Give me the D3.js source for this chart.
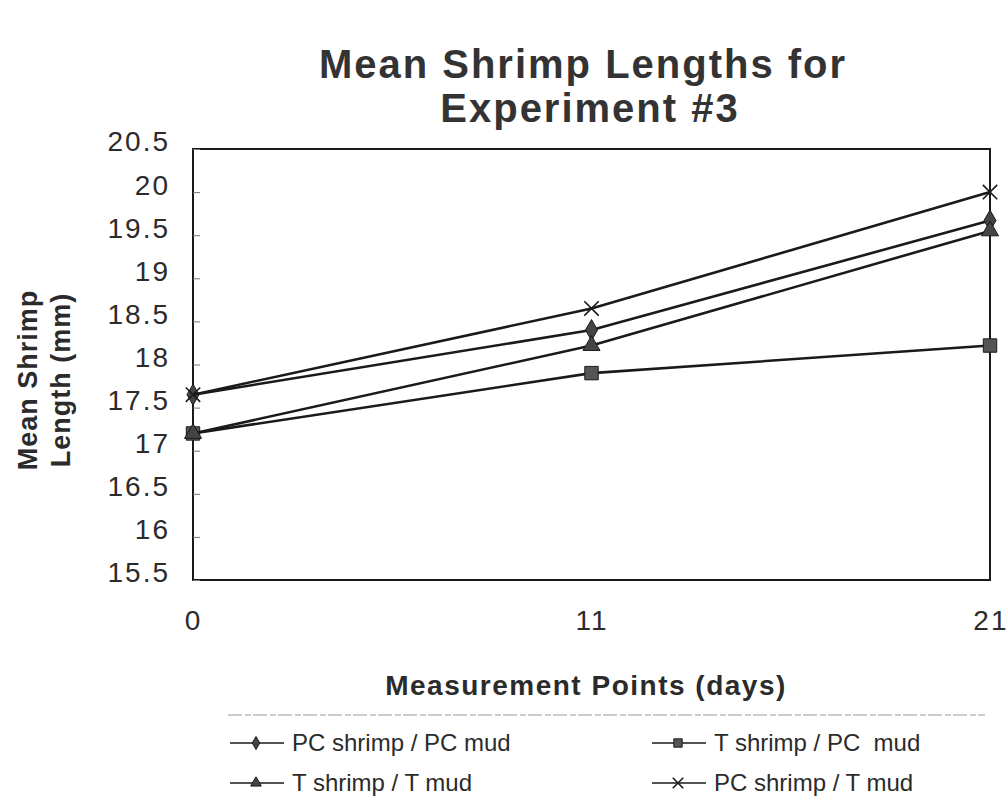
<!DOCTYPE html>
<html>
<head>
<meta charset="utf-8">
<script src="https://cdn.jsdelivr.net/npm/d3@7"></script>
<style>
  body { margin: 0; background: #fff; }
  svg { display: block; font-family: "Liberation Sans", Arial, sans-serif; }
</style>
</head>
<body>
<div id="chart"></div>
<script>
// Chart data
const days = ["0", "11", "21"];
const seriesNames = ["PC shrimp / PC mud", "T shrimp / PC  mud", "T shrimp / T mud", "PC shrimp / T mud"];
const pcShrimpPcMud = [17.65, 18.4, 19.67];
const tShrimpPcMud = [17.2, 17.9, 18.22];
const tShrimpTMud = [17.2, 18.22, 19.55];
const pcShrimpTMud = [17.65, 18.65, 20.0];
const yTicks = [15.5, 16, 16.5, 17, 17.5, 18, 18.5, 19, 19.5, 20, 20.5];
const markerTypes = ["diamond", "square", "triangle", "cross"];

const series = [pcShrimpPcMud, tShrimpPcMud, tShrimpTMud, pcShrimpTMud].map((values, i) => ({
  name: seriesNames[i],
  marker: markerTypes[i],
  values: values
}));

const width = 1008;
const height = 809;
const margin = { top: 149, right: 18, bottom: 229, left: 193 };
const ink = "#1a1a1a";
const textColor = "#2b2b2b";

const svg = d3.select("#chart").append("svg")
  .attr("width", width)
  .attr("height", height);

const x = d3.scalePoint()
  .domain(days)
  .range([margin.left, width - margin.right]);

const y = d3.scaleLinear()
  .domain([15.5, 20.5])
  .range([height - margin.bottom, margin.top]);

// Title
svg.append("text")
  .attr("text-anchor", "middle")
  .attr("font-size", 40)
  .attr("font-weight", "bold")
  .attr("letter-spacing", 2)
  .attr("fill", "#333")
  .selectAll("tspan")
  .data(["Mean Shrimp Lengths for", "Experiment #3"])
  .join("tspan")
  .attr("x", (d, i) => i ? 590 : 583)
  .attr("y", (d, i) => 78 + i * 44)
  .text(d => d);

// Plot frame
svg.append("rect")
  .attr("x", margin.left)
  .attr("y", margin.top)
  .attr("width", width - margin.left - margin.right)
  .attr("height", height - margin.top - margin.bottom)
  .attr("fill", "none")
  .attr("stroke", ink)
  .attr("stroke-width", 2);

// Y axis
const yAxis = svg.append("g")
  .attr("transform", `translate(${margin.left},0)`)
  .call(d3.axisLeft(y).tickValues(yTicks).tickSize(-7).tickPadding(23).tickFormat(d3.format("")));
yAxis.select(".domain").remove();
yAxis.selectAll(".tick line").attr("stroke", "#777").attr("stroke-width", 1);
yAxis.selectAll(".tick text")
  .attr("font-size", 28)
  .attr("letter-spacing", 2)
  .attr("fill", textColor)
  .attr("y", -7)
  .attr("font-family", "\"Liberation Sans\", Arial, sans-serif");

// X axis
const xAxis = svg.append("g")
  .attr("transform", `translate(0,${height - margin.bottom})`)
  .call(d3.axisBottom(x).tickSize(0).tickPadding(30));
xAxis.select(".domain").remove();
xAxis.selectAll(".tick text")
  .attr("font-size", 28)
  .attr("letter-spacing", 2)
  .attr("fill", textColor)
  .attr("font-family", "\"Liberation Sans\", Arial, sans-serif");
xAxis.selectAll(".tick text").filter(d => d === "21").attr("text-anchor", "end").attr("dx", 18);

// Axis titles
svg.append("text")
  .attr("x", 586)
  .attr("y", 695)
  .attr("text-anchor", "middle")
  .attr("font-size", 28)
  .attr("font-weight", "bold")
  .attr("letter-spacing", 1.5)
  .attr("fill", textColor)
  .text("Measurement Points (days)");

svg.append("text")
  .attr("transform", "translate(0,380) rotate(-90)")
  .attr("text-anchor", "middle")
  .attr("font-size", 27)
  .attr("font-weight", "bold")
  .attr("letter-spacing", 1)
  .attr("fill", textColor)
  .selectAll("tspan")
  .data(["Mean Shrimp", "Length (mm)"])
  .join("tspan")
  .attr("x", 0)
  .attr("y", (d, i) => 37 + i * 33)
  .text(d => d);

// Marker drawing
function drawMarker(g, type, size) {
  if (type === "diamond") {
    g.append("path").attr("d", d3.symbol(d3.symbolDiamond, size * 7)()).attr("fill", "#444").attr("stroke", ink).attr("stroke-width", 1);
  } else if (type === "square") {
    g.append("path").attr("d", d3.symbol(d3.symbolSquare, size * 10)()).attr("fill", "#555").attr("stroke", ink).attr("stroke-width", 1);
  } else if (type === "triangle") {
    g.append("path").attr("d", d3.symbol(d3.symbolTriangle, size * 7)()).attr("fill", "#444").attr("stroke", ink).attr("stroke-width", 1);
  } else {
    const s = Math.sqrt(size * 6) / 2 + 2;
    g.append("path").attr("d", `M${-s},${-s}L${s},${s}M${-s},${s}L${s},${-s}`).attr("stroke", ink).attr("stroke-width", 1.6).attr("fill", "none");
  }
}

// Lines and markers
const line = d3.line()
  .x((d, i) => x(days[i]))
  .y(d => y(d));

const seriesG = svg.append("g").selectAll("g")
  .data(series)
  .join("g");

seriesG.append("path")
  .attr("d", d => line(d.values))
  .attr("fill", "none")
  .attr("stroke", ink)
  .attr("stroke-width", 2.6);

seriesG.each(function(s) {
  d3.select(this).selectAll("g.pt")
    .data(s.values)
    .join("g")
    .attr("class", "pt")
    .attr("transform", (d, i) => `translate(${x(days[i])},${y(d)})`)
    .each(function() { drawMarker(d3.select(this), s.marker, 18); });
});

// Legend
svg.append("line")
  .attr("x1", 228).attr("x2", 985)
  .attr("y1", 715).attr("y2", 715)
  .attr("stroke", "#999")
  .attr("stroke-width", 1)
  .attr("stroke-dasharray", "14,3,6,2");

const legendPos = [[230, 743], [652, 743], [230, 783], [652, 783]];
const legend = svg.append("g").selectAll("g")
  .data(series)
  .join("g")
  .attr("transform", (d, i) => `translate(${legendPos[i][0]},${legendPos[i][1]})`);

legend.append("line")
  .attr("x1", 0).attr("x2", 54)
  .attr("stroke", ink)
  .attr("stroke-width", 1.6);

legend.each(function(s) {
  const g = d3.select(this).append("g").attr("transform", "translate(26,0)");
  drawMarker(g, s.marker, 7);
});

legend.append("text")
  .attr("x", 62)
  .attr("dy", "0.35em")
  .attr("font-size", 24)
  .attr("fill", textColor)
  .attr("xml:space", "preserve")
  .text(d => d.name);
</script>
</body>
</html>
